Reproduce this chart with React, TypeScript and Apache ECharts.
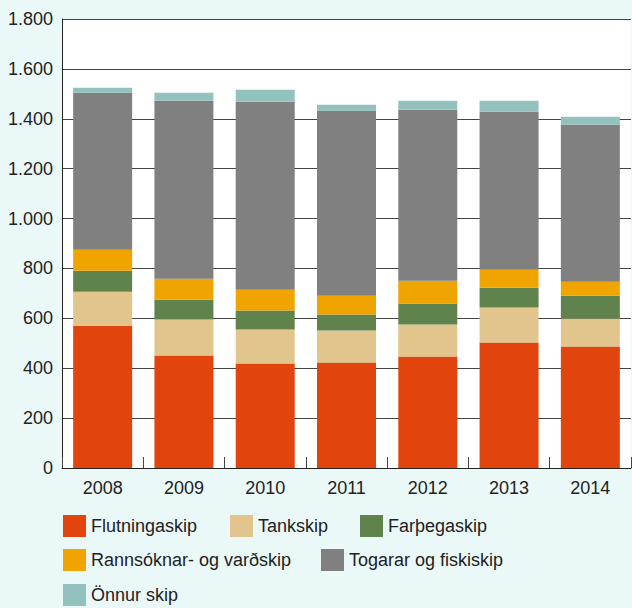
import React, { useEffect, useRef } from "react";
import * as echarts from "echarts";

const years = ["2008", "2009", "2010", "2011", "2012", "2013", "2014"];
const seriesNames = [
  "Flutningaskip",
  "Tankskip",
  "Farþegaskip",
  "Rannsóknar- og varðskip",
  "Togarar og fiskiskip",
  "Önnur skip",
];
const flutningaskip = [570, 451, 419, 423, 447, 503, 487];
const tankskip = [137, 144, 136, 128, 128, 140, 112];
const farthegaskip = [84, 80, 76, 64, 84, 80, 92];
const rannsoknar = [84, 84, 84, 76, 92, 72, 56];
const togarar = [629, 713, 753, 741, 685, 633, 629];
const onnur = [20, 32, 48, 24, 36, 44, 32];
const colors = ["#E1450D", "#E2C58D", "#60824D", "#F0A400", "#808080", "#93C1BD"];

const FONT = "'Liberation Sans', Arial, Helvetica, sans-serif";

export default function App() {
  const ref = useRef<HTMLDivElement>(null);
  useEffect(() => {
    if (!ref.current) return;
    const chart = echarts.init(ref.current, undefined, { renderer: "svg" });
    const values = [flutningaskip, tankskip, farthegaskip, rannsoknar, togarar, onnur];
    const legendPos = [
      [63, 515],
      [230, 515],
      [360, 515],
      [63, 549],
      [321, 549],
      [63, 584],
    ];
    chart.setOption({
      animation: false,
      backgroundColor: "#EAF8F8",
      textStyle: { fontFamily: FONT },
      grid: {
        left: 62,
        right: 1,
        top: 19,
        bottom: 140,
        show: true,
        backgroundColor: "#ffffff",
        borderWidth: 0,
      },
      legend: seriesNames.map((n, i) => ({
        data: [n],
        left: legendPos[i][0],
        top: legendPos[i][1],
        icon: "rect",
        itemWidth: 23,
        itemHeight: 22,
        padding: 0,
        selectedMode: false,
        textStyle: { fontFamily: FONT, fontSize: 18, color: "#222" },
      })),
      xAxis: {
        type: "category",
        data: years,
        axisLine: { show: true, lineStyle: { color: "#222", width: 1 } },
        axisTick: { show: true, inside: true, length: 11, lineStyle: { color: "#444" } },
        axisLabel: { fontFamily: FONT, fontSize: 18, color: "#222", margin: 11 },
      },
      yAxis: {
        type: "value",
        min: 0,
        max: 1800,
        interval: 200,
        axisLine: { show: true, lineStyle: { color: "#222", width: 1 } },
        axisTick: { show: false },
        splitLine: { show: true, lineStyle: { color: "#444", width: 1 } },
        axisLabel: {
          fontFamily: FONT,
          fontSize: 18,
          color: "#222",
          margin: 9,
          formatter: (v: number) => String(v).replace(/\B(?=(\d{3})+(?!\d))/g, "."),
        },
      },
      series: seriesNames.map((n, i) => ({
        name: n,
        type: "bar",
        stack: "total",
        barWidth: 59,
        data: values[i],
        itemStyle: { color: colors[i] },
      })),
    });
    return () => chart.dispose();
  }, []);
  return (
    <div
      ref={ref}
      style={{ position: "fixed", left: 0, top: 0, width: 632, height: 608 }}
    />
  );
}
